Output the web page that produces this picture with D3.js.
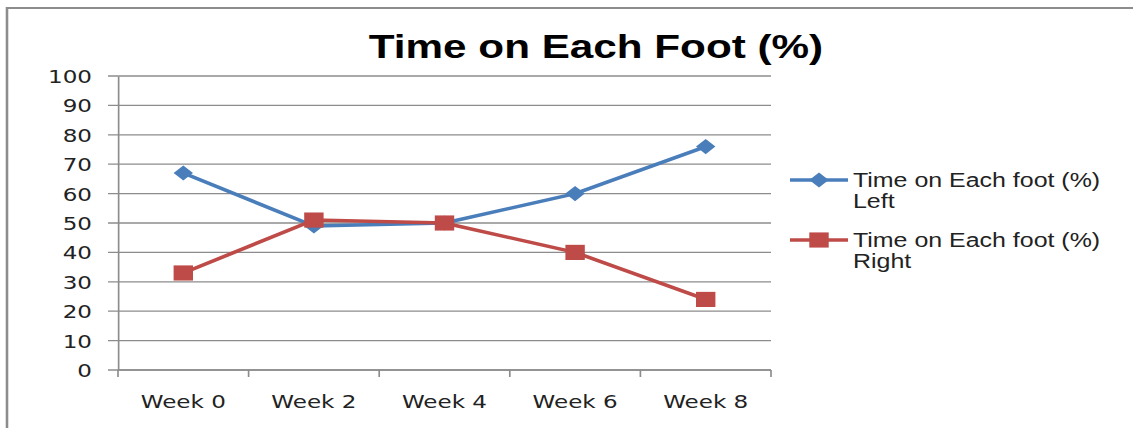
<!DOCTYPE html>
<html>
<head>
<meta charset="utf-8">
<script src="https://cdn.jsdelivr.net/npm/d3@7"></script>
<style>
  html, body { margin: 0; padding: 0; background: #fff; }
  svg { display: block; }
</style>
</head>
<body>
<svg id="chart"></svg>
<script>
// chart data
const weeks = ["Week 0", "Week 2", "Week 4", "Week 6", "Week 8"];
const leftFoot = [67, 49, 50, 60, 76];
const rightFoot = [33, 51, 50, 40, 24];
const yTicks = [0, 10, 20, 30, 40, 50, 60, 70, 80, 90, 100];
const seriesNames = ["Time on Each foot (%)", "Time on Each foot (%)"];
const seriesSub = ["Left", "Right"];

const width = 1133, height = 428;
// the original picture is stretched sideways, so draw narrow and stretch
const stretch = 1.28;
const vw = width / stretch;

const svg = d3.select("#chart")
    .attr("width", width)
    .attr("height", height)
    .attr("viewBox", `0 0 ${vw} ${height}`)
    .attr("preserveAspectRatio", "none");

// outer chart border (runs off the right and bottom)
svg.append("rect")
    .attr("x", 7 / stretch)
    .attr("y", 8)
    .attr("width", vw + 20)
    .attr("height", height + 20)
    .attr("fill", "none")
    .attr("stroke", "#8c8c8c")
    .attr("stroke-width", 2);

const plot = { left: 118 / stretch, right: 771 / stretch, top: 76, bottom: 370 };

const x = d3.scaleBand().domain(weeks).range([plot.left, plot.right]).paddingInner(0);
const y = d3.scaleLinear().domain([0, 100]).range([plot.bottom, plot.top]);
const cx = d => x(d) + x.bandwidth() / 2;

// gridlines
svg.append("g")
    .selectAll("line")
    .data(yTicks)
    .join("line")
    .attr("x1", plot.left - 10 / stretch)
    .attr("x2", plot.right)
    .attr("y1", d => y(d))
    .attr("y2", d => y(d))
    .attr("stroke", "#8c8c8c")
    .attr("stroke-width", 1.3);

// y axis
const yAxis = svg.append("g")
    .attr("transform", `translate(${plot.left},0)`)
    .call(d3.axisLeft(y).tickValues(yTicks).tickSize(0).tickPadding(26 / stretch));
yAxis.select(".domain").attr("stroke", "#8c8c8c").attr("stroke-width", 1.3);
yAxis.selectAll("text")
    .attr("font-family", "DejaVu Sans")
    .attr("font-size", 18)
    .attr("fill", "#222")
    .attr("dy", "0.36em");

// x axis
svg.append("line")
    .attr("x1", plot.left).attr("x2", plot.right)
    .attr("y1", plot.bottom).attr("y2", plot.bottom)
    .attr("stroke", "#8c8c8c").attr("stroke-width", 1.3);

const bounds = weeks.map(d => x(d)).concat([plot.right]);
svg.append("g")
    .selectAll("line")
    .data(bounds)
    .join("line")
    .attr("x1", d => d).attr("x2", d => d)
    .attr("y1", plot.bottom).attr("y2", plot.bottom + 7)
    .attr("stroke", "#8c8c8c").attr("stroke-width", 1.3);

svg.append("g")
    .selectAll("text")
    .data(weeks)
    .join("text")
    .attr("x", d => cx(d))
    .attr("y", 408)
    .attr("text-anchor", "middle")
    .attr("font-family", "DejaVu Sans")
    .attr("font-size", 18)
    .attr("fill", "#222")
    .text(d => d);

// title
svg.append("text")
    .attr("x", 596 / stretch)
    .attr("y", 58)
    .attr("text-anchor", "middle")
    .attr("font-family", "Liberation Sans")
    .attr("font-weight", "bold")
    .attr("font-size", 33)
    .attr("fill", "#000")
    .text("Time on Each Foot (%)");

const colors = ["#4a7ebb", "#be4b48"];
const series = [leftFoot, rightFoot];

const line = d3.line()
    .x((d, i) => cx(weeks[i]))
    .y(d => y(d));

// diamond = square turned 45 degrees
const diamond = d3.symbol().type(d3.symbolSquare).size(115);
const square = d3.symbol().type(d3.symbolSquare).size(230);
const markerRot = [45, 0];

series.forEach((vals, s) => {
    svg.append("path")
        .datum(vals)
        .attr("d", line)
        .attr("fill", "none")
        .attr("stroke", colors[s])
        .attr("stroke-width", 3.5)
        .attr("stroke-linejoin", "round");

    svg.append("g")
        .selectAll("path")
        .data(vals)
        .join("path")
        .attr("transform", (d, i) => `translate(${cx(weeks[i])},${y(d)}) rotate(${markerRot[s]})`)
        .attr("d", s === 0 ? diamond : square)
        .attr("fill", colors[s]);
});

// legend
const legendY = [180, 240];
const legend = svg.append("g");
series.forEach((vals, s) => {
    const g = legend.append("g").attr("transform", `translate(0,${legendY[s]})`);
    g.append("line")
        .attr("x1", 790 / stretch).attr("x2", 848 / stretch)
        .attr("y1", 0).attr("y2", 0)
        .attr("stroke", colors[s]).attr("stroke-width", 3.5);
    g.append("path")
        .attr("transform", `translate(${819 / stretch},0) rotate(${markerRot[s]})`)
        .attr("d", s === 0 ? diamond : square)
        .attr("fill", colors[s]);
    const t = g.append("text")
        .attr("x", 853 / stretch)
        .attr("y", 7)
        .attr("font-family", "Liberation Sans")
        .attr("font-size", 19.5)
        .attr("fill", "#222");
    t.append("tspan").text(seriesNames[s]);
    t.append("tspan").attr("x", 853 / stretch).attr("dy", 21).text(seriesSub[s]);
});
</script>
</body>
</html>
